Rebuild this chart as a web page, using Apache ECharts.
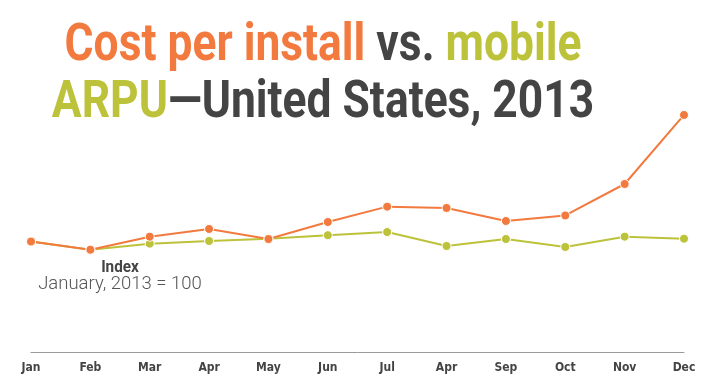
<!DOCTYPE html>
<html><head><meta charset="utf-8">
<script src="https://cdn.jsdelivr.net/npm/echarts@6/dist/echarts.min.js"></script>
<style>html,body{margin:0;padding:0;background:#fff}#c{width:717px;height:387px}</style>
</head><body><div id="c"></div>
<script>
const months = ['Jan','Feb','Mar','Apr','May','Jun','Jul','Apr','Sep','Oct','Nov','Dec'];
const costPerInstall = [100, 92.6, 104.4, 111.4, 102.3, 117.7, 131.6, 130.4, 118.6, 123.6, 152.1, 214.6];
const mobileArpu = [100, 92.6, 98.1, 100.5, 102.6, 105.7, 108.6, 96.0, 102.3, 95.1, 104.4, 102.6];

const ORANGE = '#F27A3F', GREEN = '#BDC23B', DARK = '#444444';
const COND = '"DejaVu Sans Condensed", "Liberation Sans Narrow", sans-serif';
const TF = 'Roboto, sans-serif';

function rs(c) { return {fill: c, fontFamily: TF, fontWeight: 'bold', fontSize: 51}; }

const chart = echarts.init(document.getElementById('c'));
chart.setOption({
  animation: false,
  grid: {left: 31, right: 33, top: 109, bottom: 35},
  xAxis: {
    type: 'category', data: months, boundaryGap: false,
    axisLine: {lineStyle: {color: '#9a9a9a', width: 1}},
    axisTick: {show: false},
    axisLabel: {color: DARK, fontFamily: COND, fontWeight: 'bold', fontSize: 12, margin: 10, interval: 0}
  },
  yAxis: {type: 'value', min: 0, max: 220, show: false, splitLine: {show: false}},
  graphic: [
    {type: 'text', x: 323, y: 47, scaleX: 0.87, silent: true,
     style: {text: '{o|Cost per install} {d|vs.} {g|mobile}', align: 'center', verticalAlign: 'middle',
             fontFamily: TF, fontWeight: 'bold', fontSize: 51,
             rich: {o: rs(ORANGE), d: rs(DARK), g: rs(GREEN)}}},
    {type: 'text', x: 323, y: 104, scaleX: 0.87, silent: true,
     style: {text: '{g|ARPU}{d|—United States, 2013}', align: 'center', verticalAlign: 'middle',
             fontFamily: TF, fontWeight: 'bold', fontSize: 51,
             rich: {o: rs(ORANGE), d: rs(DARK), g: rs(GREEN)}}},
    {type: 'text', x: 120, y: 268, scaleX: 0.9, silent: true,
     style: {text: 'Index', align: 'center', verticalAlign: 'middle', fill: DARK,
             fontFamily: TF, fontWeight: 'bold', fontSize: 17}},
    {type: 'text', x: 120, y: 284, silent: true,
     style: {text: 'January, 2013 = 100', align: 'center', verticalAlign: 'middle', fill: '#555',
             fontFamily: TF, fontWeight: 300, fontSize: 18.5}}
  ],
  series: [
    {type: 'line', data: mobileArpu, color: GREEN, symbol: 'circle', symbolSize: 9,
     lineStyle: {width: 2, color: GREEN}, itemStyle: {color: GREEN, borderColor: '#fff', borderWidth: 1}},
    {type: 'line', data: costPerInstall, color: ORANGE, symbol: 'circle', symbolSize: 9,
     lineStyle: {width: 2, color: ORANGE}, itemStyle: {color: ORANGE, borderColor: '#fff', borderWidth: 1}}
  ]
});
</script></body></html>
